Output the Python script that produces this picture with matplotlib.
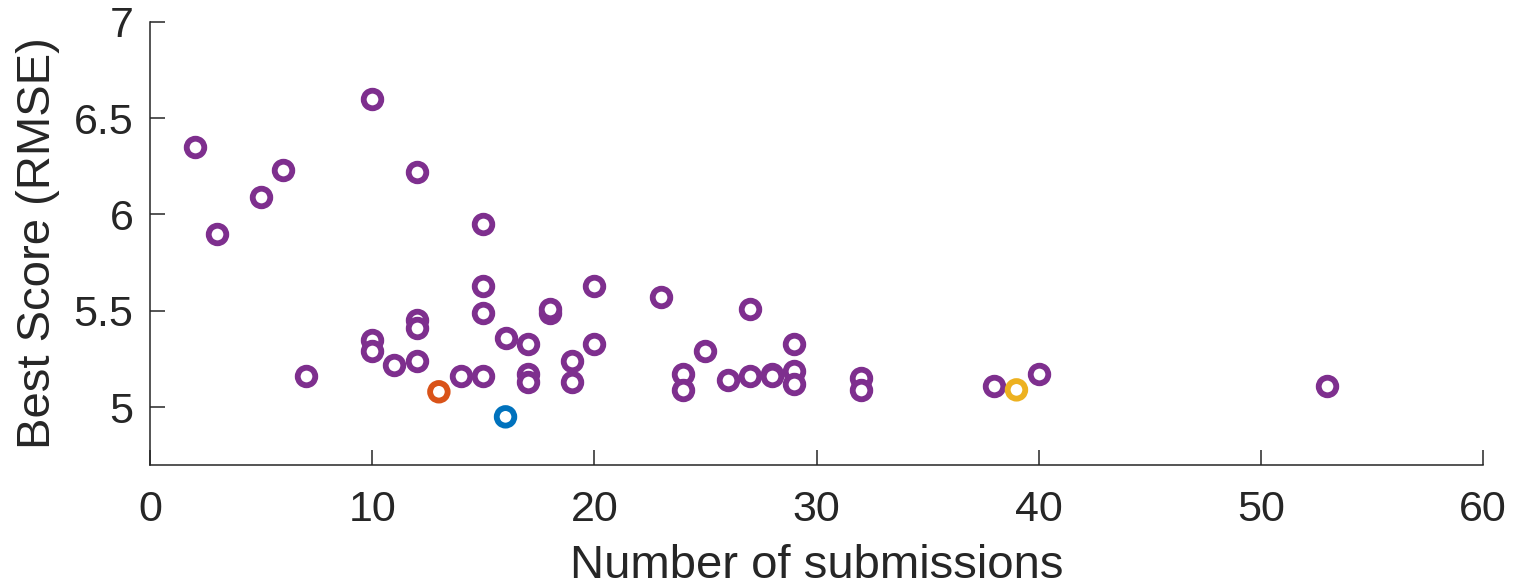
#!/usr/bin/env python

import numpy as np
import matplotlib
matplotlib.use('Agg')
import matplotlib.pyplot as plt

# number of submissions and best score for every team
submissions = [2, 3, 5, 6, 7, 10, 10, 10, 11, 12, 12, 12, 12, 14, 15, 15, 15, 15,
	16, 17, 17, 17, 18, 18, 19, 19, 20, 20, 23, 24, 24, 25, 26, 27, 27, 28, 28,
	29, 29, 29, 32, 32, 38, 40, 53]
best_score = [6.35, 5.90, 6.09, 6.23, 5.16, 6.60, 5.35, 5.29, 5.22, 6.22, 5.45, 5.41,
	5.24, 5.16, 5.95, 5.63, 5.49, 5.16, 5.36, 5.33, 5.17, 5.13, 5.49, 5.51, 5.24,
	5.13, 5.63, 5.33, 5.57, 5.17, 5.09, 5.29, 5.14, 5.51, 5.16, 5.17, 5.16, 5.33,
	5.19, 5.12, 5.15, 5.09, 5.11, 5.17, 5.11]

# highlighted teams
hl_submissions = [13, 16, 39]
hl_score = [5.08, 4.95, 5.09]
hl_colors = ['#D95319', '#0072BD', '#EDB120']

purple = '#7E2F8E'
text_col = '#262626'


def main():
	plt.rcParams['font.family'] = ['Liberation Sans', 'DejaVu Sans']

	fig = plt.figure(figsize=(15.19, 5.87), dpi=100)
	ax = fig.add_axes([0.0988, 0.2078, 0.8775, 0.7551])

	ax.scatter(submissions, best_score, s=160, facecolors='white',
		edgecolors=purple, linewidths=4.2, zorder=3)
	ax.scatter(hl_submissions, hl_score, s=160, facecolors='white',
		edgecolors=hl_colors, linewidths=4.2, zorder=4)

	# cosmetics, MATLAB look
	ax.set_xlim([0, 60])
	ax.set_ylim([4.7, 7])
	ax.set_xticks(np.arange(0, 61, 10))
	ax.set_yticks([5, 5.5, 6, 6.5, 7])
	ax.set_yticklabels(['5', '5.5', '6', '6.5', '7'])
	for side in ['top', 'right']:
		ax.spines[side].set_visible(False)
	for side in ['left', 'bottom']:
		ax.spines[side].set_color(text_col)
		ax.spines[side].set_linewidth(1.1)
	ax.tick_params(direction='in', length=11, width=1.1, color=text_col,
		labelsize=31, labelcolor=text_col)
	ax.tick_params(axis='x', pad=18)
	ax.tick_params(axis='y', pad=12)

	ax.set_xlabel('Number of submissions', fontsize=34, color=text_col, labelpad=10)
	ax.set_ylabel('Best Score (RMSE)', fontsize=34, color=text_col, labelpad=10)

	fig.savefig('out.png', dpi=100)
	plt.close(fig)


if __name__ == "__main__":
	main()
